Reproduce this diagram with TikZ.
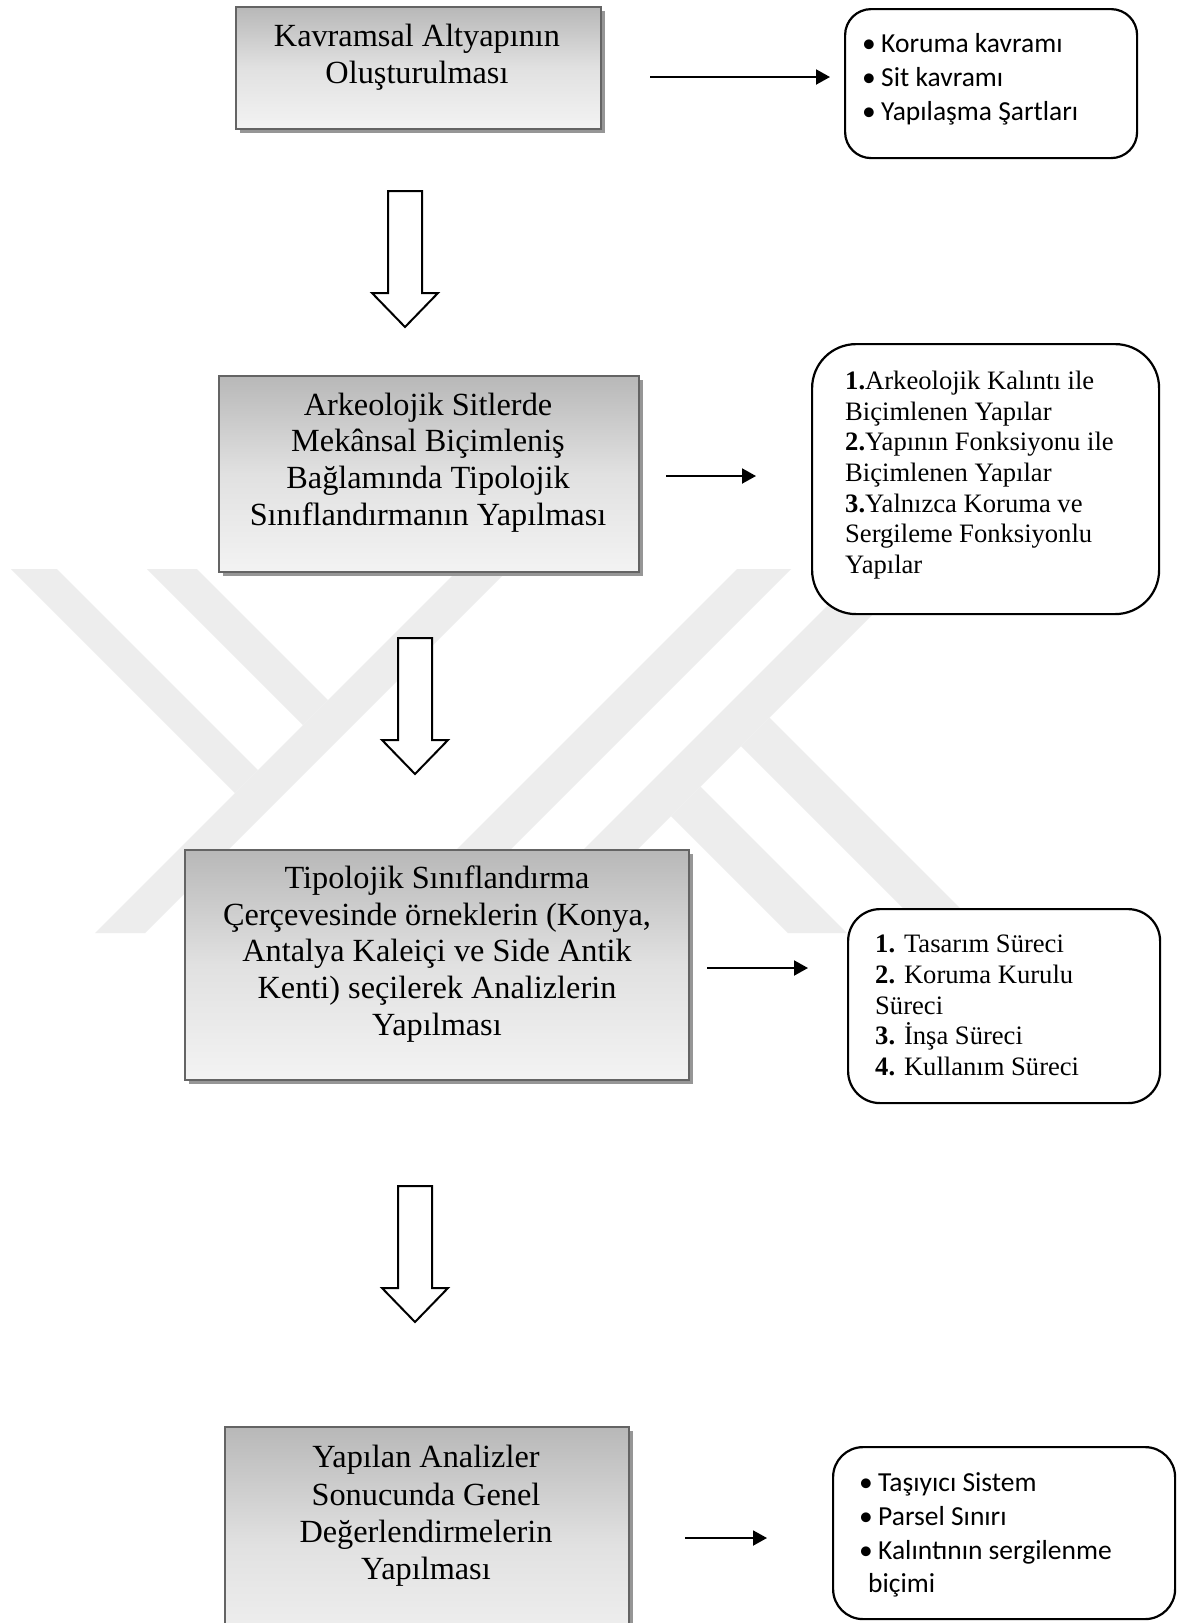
\documentclass[tikz,border=0pt]{standalone}
\usepackage{fontspec}
\setmainfont{Liberation Serif}
\newfontfamily\calib{Carlito}
\usetikzlibrary{arrows.meta,shadows}
\definecolor{wm}{RGB}{237,237,237}
\definecolor{gtop}{RGB}{184,184,184}
\definecolor{gmid}{RGB}{225,225,225}
\definecolor{gbot}{RGB}{243,243,243}
\definecolor{gborder}{RGB}{100,100,100}
\definecolor{gshadow}{RGB}{150,150,150}
\newcommand{\bul}{\makebox[19pt][l]{•}}
\begin{document}
\begin{tikzpicture}[x=1pt,y=-1pt,
  mbox/.style={rectangle, draw=gborder, line width=2pt, top color=gtop, bottom color=gbot, middle color=gmid,
    inner sep=0pt, anchor=north west,
    general shadow={fill=gshadow, shadow xshift=4pt, shadow yshift=-4pt}},
  rbox/.style={rectangle, draw=black, line width=2.2pt, fill=white, inner sep=0pt, anchor=north west},
  mtext/.style={align=center, inner sep=0pt, font=\fontsize{32.3}{36.6}\selectfont},
  rtext/.style={align=left, inner sep=0pt, anchor=west, font=\fontsize{26.6}{30.7}\selectfont},
  stext/.style={align=left, inner sep=0pt, anchor=west, font=\calib\fontsize{27.5}{33.8}\selectfont},
  harrow/.style={line width=2pt, -{Triangle[length=14pt,width=15pt]}},
  barrow/.style={draw=black, line width=2pt, fill=white, line join=miter}
]
\useasboundingbox (0,0) rectangle (1181,1623);
\clip (0,0) rectangle (1181,1623);
\fill[white] (0,0) rectangle (1181,1623);

% watermark
\fill[wm] (11,569) -- (57,569) -- (258,770) -- (235,793) -- cycle;
\fill[wm] (147,569) -- (197,569) -- (328,700) -- (303,725) -- cycle;
\fill[wm] (459,569) -- (509,569) -- (145,933) -- (95,933) -- cycle;
\fill[wm] (737,569) -- (791,569) -- (427,933) -- (373,933) -- cycle;
\fill[wm] (864,569) -- (918,569) -- (554,933) -- (500,933) -- cycle;
\fill[wm] (769.5,717.5) -- (985,933) -- (928,933) -- (741,746) -- cycle;
\fill[wm] (700.5,786.5) -- (847,933) -- (788,933) -- (671,816) -- cycle;

% main boxes
\node[mbox, minimum width=365pt, minimum height=122pt] (b1) at (235,6) {};
\node[mtext] (t1) at (417,57.5) {Kavramsal Altyapının\\Oluşturulması};

\node[mbox, minimum width=420pt, minimum height=196pt] (b2) at (218,375) {};
\node[mtext] (t2) at (428,462.5) {Arkeolojik Sitlerde\\Mekânsal Biçimleniş\\Bağlamında Tipolojik\\Sınıflandırmanın Yapılması};

\node[mbox, minimum width=504pt, minimum height=230pt] (b3) at (184,849) {};
\node[mtext] (t3) at (437,954) {Tipolojik Sınıflandırma\\Çerçevesinde örneklerin (Konya,\\Antalya Kaleiçi ve Side Antik\\Kenti) seçilerek Analizlerin\\Yapılması};

\node[mbox, minimum width=404pt, minimum height=235pt] (b4) at (224,1426) {};
\node[mtext, font=\fontsize{32.3}{37.2}\selectfont] (t4) at (426,1516) {Yapılan Analizler\\Sonucunda Genel\\Değerlendirmelerin\\Yapılması};

% right boxes
\node[rbox, minimum width=292pt, minimum height=149pt, rounded corners=26pt] (r1) at (844,8) {};
\node[stext] (r1t) at (862,79) {\bul Koruma kavramı\\\bul Sit kavramı\\\bul Yapılaşma Şartları};

\node[rbox, minimum width=347pt, minimum height=270pt, rounded corners=44pt] (r2) at (811,343) {};
\node[rtext] (r2t) at (845,475) {\textbf{1.}Arkeolojik Kalıntı ile\\Biçimlenen Yapılar\\\textbf{2.}Yapının Fonksiyonu ile\\Biçimlenen Yapılar\\\textbf{3.}Yalnızca Koruma ve\\Sergileme Fonksiyonlu\\Yapılar};

\node[rbox, minimum width=312pt, minimum height=194pt, rounded corners=32pt] (r3) at (847,908) {};
\node[rtext] (r3t) at (875,1005.5) {\textbf{1.} Tasarım Süreci\\\textbf{2.} Koruma Kurulu\\Süreci\\\textbf{3.} İnşa Süreci\\\textbf{4.} Kullanım Süreci};

\node[rbox, minimum width=342pt, minimum height=172pt, rounded corners=30pt] (r4) at (832,1446) {};
\node[stext] (r4t) at (859,1535) {\bul Taşıyıcı Sistem\\\bul Parsel Sınırı\\\bul Kalıntının sergilenme\\\hspace*{9pt}biçimi};

% horizontal arrows
\coordinate (a1s) at (650,77);  \coordinate (a1e) at (830,77);
\coordinate (a2s) at (666,476); \coordinate (a2e) at (756,476);
\coordinate (a3s) at (707,968); \coordinate (a3e) at (808,968);
\coordinate (a4s) at (685,1538); \coordinate (a4e) at (767,1538);
\draw[harrow] (a1s) -- (a1e);
\draw[harrow] (a2s) -- (a2e);
\draw[harrow] (a3s) -- (a3e);
\draw[harrow] (a4s) -- (a4e);

% block arrows
\coordinate (d1) at (405,191);
\coordinate (d2) at (415,638);
\coordinate (d3) at (415,1186);
\foreach \d in {d1,d2,d3}{
  \draw[barrow] (\d) ++(-17,0) -- ++(34,0) -- ++(0,102) -- ++(16,0) -- ++(-33,34) -- ++(-33,-34) -- ++(16,0) -- cycle;
}
\end{tikzpicture}
\end{document}
